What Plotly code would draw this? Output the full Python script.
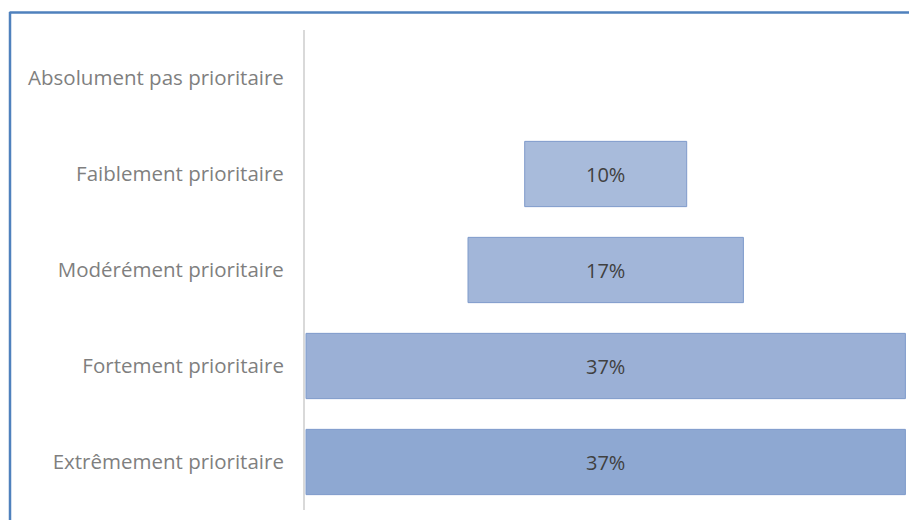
import plotly.graph_objects as go

categories = ["Absolument pas prioritaire", "Faiblement prioritaire", "Modérément prioritaire",
              "Fortement prioritaire", "Extrêmement prioritaire"]
values = [0, 10, 17, 37, 37]
labels = ["", "10%", "17%", "37%", "37%"]
bar_colors = ["#aabddd", "#a8bbdb", "#a2b6d9", "#9bb0d6", "#8ea8d2"]

W, H = 909, 520
ml, mr, mt, mb = 305, 0, 30, 10
pw = W - ml - mr
ph = H - mt - mb
k = 16.2  # px per percent
x0 = -max(values) / 2 - 1 / k
x1 = x0 + pw / k

fig = go.Figure()
fig.add_trace(go.Bar(
    y=categories,
    x=values,
    base=[-v / 2 for v in values],
    orientation="h",
    text=labels,
    textposition="inside",
    insidetextanchor="middle",
    textfont=dict(family="Open Sans", size=20, color="#404040"),
    marker=dict(color=bar_colors,
                line=dict(color="#7f9bcb", width=[0 if v == 0 else 1 for v in values])),
    width=0.68,
    hoverinfo="skip",
))

def px2paper_x(px):
    return (px - ml) / pw

def px2paper_y(py):
    return (H - mb - py) / ph

fig.update_layout(
    width=W, height=H,
    margin=dict(l=ml, r=mr, t=mt, b=mb),
    paper_bgcolor="white", plot_bgcolor="white",
    showlegend=False,
    uniformtext=dict(minsize=20, mode="show"),
    xaxis=dict(range=[x0, x1], visible=False, fixedrange=True),
    yaxis=dict(
        autorange="reversed",
        showline=True, linecolor="#d9d9d9", linewidth=2,
        showgrid=False, zeroline=False,
        ticks="", ticklabelstandoff=15,
        tickfont=dict(family="Open Sans", size=20.5, color="#7f7f7f"),
    ),
    shapes=[
        dict(type="line", xref="paper", yref="paper",
             x0=px2paper_x(9.5), x1=px2paper_x(950), y0=px2paper_y(12.5), y1=px2paper_y(12.5),
             line=dict(color="#4f81bd", width=2.5)),
        dict(type="line", xref="paper", yref="paper",
             x0=px2paper_x(10), x1=px2paper_x(10), y0=px2paper_y(12), y1=px2paper_y(560),
             line=dict(color="#4f81bd", width=2.5)),
    ],
)

fig.write_html("out.html")
